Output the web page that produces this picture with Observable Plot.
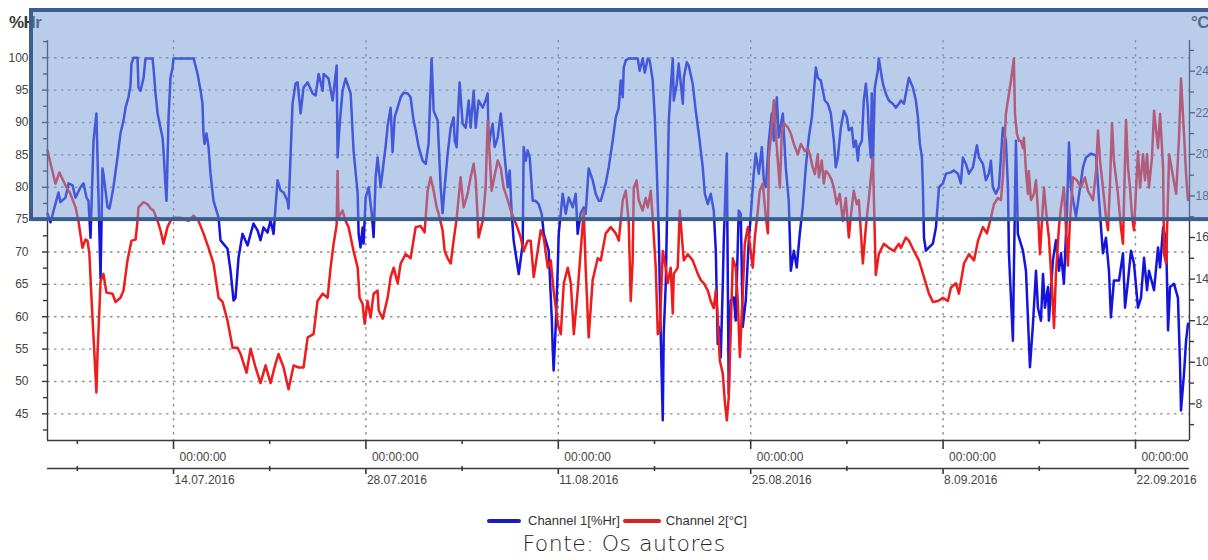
<!DOCTYPE html>
<html><head><meta charset="utf-8">
<script src="https://cdn.jsdelivr.net/npm/d3@7"></script>
<script src="https://cdn.jsdelivr.net/npm/@observablehq/plot@0.6"></script>
<style>
html,body{margin:0;padding:0;background:#fff;}
body{width:1208px;height:560px;overflow:hidden;position:relative;font-family:"Liberation Sans",Arial,sans-serif;}
#chart{position:absolute;left:0;top:0;}
#legend{position:absolute;top:512px;left:487px;display:flex;align-items:center;font-size:13px;color:#333;line-height:18px;white-space:nowrap;}
.sw{display:inline-block;height:4px;border-radius:2px;}
#caption{position:absolute;top:532px;left:0;width:1208px;padding-left:40px;box-sizing:border-box;text-align:center;font-family:"DejaVu Sans",sans-serif;font-weight:300;font-size:22px;letter-spacing:0.5px;color:#222;line-height:24px;}
</style></head><body>
<div id="chart"></div>
<div id="legend"><span class="sw" style="background:#1c1cb8;width:34px;margin-right:7px"></span><span>Channel 1[%Hr]</span><span class="sw" style="background:#d92222;width:38px;margin-left:3px;margin-right:5px"></span><span>Channel 2[°C]</span></div>
<div id="caption">Fonte: Os autores</div>
<script>
// [day since 2016-07-01, %Hr]
const humidityReadings = [[3.83,75.9],[4.05,74.6],[4.63,79.2],[4.77,77.7],[5.14,78.4],[5.36,80.6],[5.65,80.3],[5.87,78.4],[6.23,80.0],[6.45,80.6],[6.67,78.4],[6.81,77.9],[6.96,72.2],[7.18,87.2],[7.39,91.4],[7.69,65.9],[7.83,82.9],[7.90,82.1],[8.20,76.9],[8.34,76.7],[8.63,80.0],[8.92,84.6],[9.14,88.3],[9.36,90.3],[9.51,92.3],[9.72,93.9],[9.87,95.7],[9.94,99.1],[10.09,100],[10.38,100],[10.45,95.4],[10.60,94.9],[10.82,96.9],[10.96,99.9],[11.47,99.9],[11.54,98.5],[11.69,94.5],[11.84,91.4],[12.05,89.2],[12.20,87.7],[12.27,85.7],[12.42,80.0],[12.49,77.9],[12.64,90.8],[12.78,96.9],[12.93,98.5],[13.00,99.9],[14.46,99.9],[14.75,97.5],[14.97,94.9],[15.11,92.9],[15.18,88.3],[15.26,86.7],[15.40,88.3],[15.55,86.2],[15.69,82.1],[15.91,77.9],[16.28,75.3],[16.42,71.8],[16.93,70.5],[17.15,67.1],[17.37,62.5],[17.51,62.9],[17.73,69.1],[18.02,72.8],[18.39,71.0],[18.61,72.8],[18.82,74.4],[19.12,73.3],[19.33,71.8],[19.55,73.8],[19.84,73.0],[20.06,74.9],[20.28,72.8],[20.57,81.1],[20.79,79.5],[21.01,79.2],[21.30,77.9],[21.37,76.7],[21.66,92.9],[21.88,96.0],[22.03,96.2],[22.25,91.4],[22.46,95.4],[22.76,96.2],[23.12,94.5],[23.34,94.2],[23.56,97.5],[23.85,94.9],[23.92,97.5],[24.28,96.8],[24.58,93.4],[24.87,98.8],[24.94,84.6],[25.09,89.8],[25.30,94.9],[25.52,96.8],[25.89,94.5],[26.10,85.7],[26.40,79.0],[26.47,72.8],[26.61,70.7],[26.76,73.8],[26.83,71.3],[26.98,78.4],[27.20,80.0],[27.42,76.0],[27.56,72.3],[27.71,81.6],[27.85,84.6],[28.07,80.0],[28.43,86.2],[28.58,89.5],[28.80,92.3],[28.94,85.4],[29.09,90.8],[29.53,93.9],[29.74,94.6],[30.04,94.5],[30.25,93.9],[30.47,90.3],[30.62,88.8],[30.84,86.2],[31.13,84.1],[31.35,83.6],[31.56,86.7],[31.78,99.9],[31.93,91.8],[32.22,90.3],[32.44,80.0],[32.58,76.0],[32.73,80.0],[32.95,85.2],[33.17,89.2],[33.38,90.8],[33.46,87.2],[33.60,86.2],[33.75,93.4],[33.82,96.2],[34.04,89.8],[34.26,89.2],[34.48,93.4],[34.62,89.2],[34.84,94.9],[34.99,89.2],[35.20,93.4],[35.50,92.3],[35.71,93.4],[35.86,94.5],[35.93,86.2],[36.08,88.3],[36.22,89.8],[36.37,86.2],[36.59,87.7],[36.81,91.4],[36.95,88.3],[37.17,83.1],[37.32,80.0],[37.46,82.6],[37.61,75.9],[37.75,71.8],[38.12,66.6],[38.41,71.3],[38.48,86.2],[38.63,84.1],[38.77,85.7],[38.92,84.6],[39.14,77.9],[39.35,77.9],[39.57,77.4],[39.79,75.9],[39.94,72.8],[40.30,70.2],[40.52,59.9],[40.59,55.3],[40.66,51.7],[40.81,58.4],[40.96,67.6],[41.03,72.8],[41.32,79.0],[41.54,75.9],[41.76,78.4],[42.05,76.9],[42.27,79.0],[42.41,72.8],[42.63,76.0],[42.85,76.9],[42.99,75.9],[43.21,82.9],[43.50,81.1],[43.72,79.0],[43.94,77.9],[44.09,77.9],[44.45,80.6],[44.67,83.1],[44.96,87.2],[45.18,90.8],[45.40,92.3],[45.54,96.5],[45.69,93.9],[45.76,98.5],[45.91,99.6],[46.12,99.9],[46.78,99.9],[46.92,98.0],[47.14,99.9],[47.29,97.7],[47.51,99.9],[47.65,99.6],[47.87,96.5],[48.02,90.8],[48.16,83.1],[48.31,72.8],[48.45,57.4],[48.60,44.0],[48.67,57.4],[48.82,65.1],[49.04,90.3],[49.18,95.4],[49.33,99.9],[49.40,93.4],[49.62,96.0],[49.76,99.1],[49.91,96.0],[50.06,92.9],[50.13,96.9],[50.35,99.3],[50.49,98.8],[50.78,96.0],[51.00,91.8],[51.22,88.3],[51.51,83.1],[51.66,79.0],[51.88,77.4],[52.09,79.0],[52.31,76.4],[52.46,70.2],[52.60,55.8],[52.68,58.4],[52.82,53.7],[52.97,65.1],[53.04,71.8],[53.26,85.2],[53.40,48.1],[53.55,62.5],[53.77,63.0],[53.91,59.4],[54.13,76.4],[54.28,75.9],[54.42,58.4],[54.64,62.5],[54.86,71.8],[55.01,75.9],[55.22,82.1],[55.37,85.2],[55.59,82.1],[55.81,86.2],[55.95,81.1],[56.10,80.0],[56.32,87.2],[56.53,91.4],[56.68,87.2],[56.90,93.9],[57.04,87.7],[57.34,91.4],[57.55,83.1],[57.77,77.9],[57.92,67.1],[58.14,70.2],[58.35,67.6],[58.57,72.8],[58.79,77.0],[59.01,83.1],[59.23,87.7],[59.45,90.8],[59.59,94.5],[59.74,98.5],[59.88,96.9],[60.10,96.5],[60.25,94.9],[60.39,93.4],[60.61,92.9],[60.83,91.4],[61.05,87.2],[61.19,83.1],[61.34,84.6],[61.56,89.2],[61.78,91.8],[62.00,90.8],[62.14,88.8],[62.36,89.2],[62.50,86.2],[62.65,87.2],[62.80,84.1],[62.87,86.2],[63.09,87.2],[63.23,93.4],[63.38,96.0],[63.52,92.3],[63.60,88.3],[63.74,84.6],[63.81,94.5],[63.89,83.1],[64.03,95.4],[64.25,98.0],[64.32,99.9],[64.62,96.0],[64.83,94.5],[65.05,93.4],[65.34,92.9],[65.56,92.3],[65.78,92.9],[65.93,93.4],[66.15,92.9],[66.51,96.9],[66.80,95.4],[67.02,93.4],[67.17,90.8],[67.31,86.7],[67.46,84.6],[67.53,80.0],[67.61,72.2],[67.75,70.2],[67.97,70.7],[68.26,71.3],[68.48,73.8],[68.70,80.0],[68.99,80.6],[69.21,82.1],[69.57,82.3],[69.79,82.6],[70.08,82.1],[70.29,80.6],[70.44,84.6],[70.66,83.6],[70.88,82.1],[71.17,83.1],[71.46,86.5],[71.61,84.6],[71.90,83.6],[72.11,81.1],[72.33,82.1],[72.48,84.1],[72.62,80.0],[72.84,79.0],[73.06,80.0],[73.35,89.2],[73.57,87.2],[73.72,80.0],[73.79,69.8],[74.08,56.3],[74.15,67.1],[74.30,87.2],[74.44,72.8],[74.81,70.2],[75.03,67.1],[75.32,52.2],[75.54,58.9],[75.76,67.1],[75.90,61.4],[76.12,59.4],[76.27,66.6],[76.41,61.4],[76.63,64.6],[76.70,59.4],[76.99,68.7],[77.21,71.8],[77.43,67.1],[77.58,69.8],[77.79,65.1],[78.01,76.0],[78.16,86.9],[78.30,80.0],[78.67,75.5],[79.18,83.1],[79.40,84.6],[79.76,85.2],[80.13,84.9],[80.35,77.9],[80.63,69.8],[80.85,72.2],[81.07,67.1],[81.21,59.9],[81.43,65.6],[81.80,65.6],[82.09,69.8],[82.24,61.4],[82.46,65.6],[82.67,70.2],[82.89,68.2],[83.18,61.4],[83.40,62.9],[83.62,69.1],[83.84,64.1],[83.98,67.1],[84.35,64.1],[84.64,70.7],[84.79,67.6],[85.01,73.8],[85.23,71.8],[85.37,57.9],[85.51,64.6],[85.80,65.1],[86.09,62.9],[86.24,52.7],[86.31,45.5],[86.53,51.2],[86.68,56.3],[86.82,58.9]];

// [day since 2016-07-01, °C]
const temperatureReadings = [[3.83,20.2],[4.05,19.56],[4.41,18.6],[4.70,19.13],[5.14,18.5],[5.50,18.1],[5.87,17.45],[6.08,16.8],[6.37,15.5],[6.59,15.9],[6.74,15.85],[6.88,15.2],[7.03,13.1],[7.18,11.2],[7.39,8.55],[7.47,10.4],[7.69,13.9],[7.90,14.25],[8.12,13.35],[8.56,13.3],[8.78,12.9],[9.14,13.1],[9.36,13.45],[9.65,14.9],[9.94,15.85],[10.24,15.9],[10.38,16.8],[10.45,17.45],[10.82,17.7],[11.11,17.6],[11.33,17.4],[11.54,17.3],[11.84,16.8],[12.05,16.35],[12.27,15.7],[12.56,16.5],[12.78,16.8],[13.00,16.95],[13.51,16.95],[14.09,16.8],[14.46,17.05],[14.82,16.8],[15.18,16.2],[15.55,15.5],[15.91,14.75],[16.28,13.1],[16.57,12.9],[16.93,12.0],[17.30,10.7],[17.66,10.7],[17.88,10.4],[18.31,9.5],[18.61,10.65],[18.97,9.75],[19.33,9.0],[19.70,9.85],[20.06,9.0],[20.35,9.75],[20.64,10.4],[21.01,9.75],[21.37,8.7],[21.74,9.85],[22.10,9.75],[22.46,9.75],[22.76,11.2],[23.19,11.35],[23.48,12.95],[23.85,13.3],[24.21,13.1],[24.43,14.55],[24.65,15.7],[24.87,16.6],[24.94,19.2],[25.01,16.95],[25.30,17.3],[25.52,16.8],[25.74,16.5],[26.10,15.35],[26.40,14.55],[26.54,13.1],[26.76,12.8],[26.91,11.85],[27.12,12.95],[27.34,12.15],[27.56,13.3],[27.85,13.45],[27.93,12.5],[28.22,12.1],[28.58,13.1],[28.80,14.1],[29.02,14.55],[29.31,13.8],[29.53,14.75],[29.89,15.2],[30.25,15.0],[30.62,16.5],[30.98,16.55],[31.27,16.25],[31.49,18.25],[31.71,18.9],[31.93,18.25],[32.15,17.45],[32.29,17.15],[32.58,16.35],[32.73,15.35],[32.95,15.0],[33.17,14.75],[33.38,15.85],[33.60,16.9],[33.89,18.9],[34.11,17.45],[34.40,18.1],[34.62,18.9],[34.84,19.55],[34.99,18.75],[35.13,16.95],[35.20,16.0],[35.50,16.8],[35.71,18.4],[35.86,21.6],[36.00,20.0],[36.15,18.25],[36.30,18.75],[36.59,19.7],[36.81,19.35],[37.02,18.4],[37.32,17.8],[37.54,17.3],[37.75,16.95],[38.04,16.45],[38.26,16.0],[38.48,15.35],[38.77,15.85],[38.99,15.85],[39.21,14.1],[39.50,15.35],[39.72,16.35],[39.94,16.0],[40.23,14.55],[40.45,14.9],[40.66,13.45],[40.96,11.85],[41.18,11.35],[41.40,13.8],[41.69,14.55],[41.91,13.8],[42.13,11.35],[42.41,13.45],[42.63,15.35],[42.85,17.3],[42.99,14.55],[43.21,11.2],[43.50,13.95],[43.87,15.0],[44.09,14.9],[44.45,16.2],[44.82,16.5],[45.18,16.2],[45.40,15.85],[45.69,17.8],[45.91,18.25],[46.12,16.8],[46.27,12.95],[46.41,14.9],[46.49,18.4],[46.70,18.75],[46.85,17.8],[47.14,17.3],[47.36,17.9],[47.51,17.45],[47.73,18.25],[47.87,16.9],[48.09,14.55],[48.24,11.35],[48.38,11.5],[48.60,15.35],[48.82,14.55],[48.96,13.8],[49.18,14.55],[49.33,12.35],[49.40,14.25],[49.69,14.55],[49.84,17.3],[50.13,14.9],[50.42,15.2],[50.78,14.9],[51.15,14.25],[51.37,13.95],[51.59,13.8],[51.88,13.45],[52.09,12.95],[52.31,12.6],[52.46,13.45],[52.60,12.15],[52.75,10.1],[52.97,9.45],[53.11,8.15],[53.26,7.2],[53.40,8.3],[53.55,11.65],[53.70,15.0],[53.91,14.55],[54.06,12.95],[54.21,10.25],[54.42,13.3],[54.57,15.7],[54.79,16.5],[54.93,15.7],[55.15,14.55],[55.30,16.0],[55.52,17.3],[55.66,18.25],[55.88,18.6],[56.10,17.0],[56.25,16.2],[56.32,19.85],[56.53,21.3],[56.68,22.6],[56.83,21.0],[56.97,19.7],[57.12,18.4],[57.26,21.0],[57.41,21.5],[57.70,21.3],[57.92,21.0],[58.14,20.5],[58.43,20.0],[58.65,20.5],[58.94,20.15],[59.16,20.3],[59.30,20.0],[59.52,19.35],[59.67,19.05],[59.88,20.0],[59.96,18.9],[60.17,19.7],[60.32,18.6],[60.46,19.2],[60.68,19.05],[60.90,18.75],[61.05,18.4],[61.26,17.6],[61.48,18.1],[61.70,16.8],[61.92,17.9],[62.14,16.0],[62.28,17.0],[62.50,18.25],[62.72,17.6],[62.87,17.8],[63.16,14.75],[63.38,16.5],[63.60,17.9],[63.89,19.85],[64.10,14.2],[64.32,15.2],[64.69,15.7],[65.05,15.5],[65.42,15.35],[65.78,15.7],[65.93,15.5],[66.29,16.0],[66.51,15.85],[66.88,15.35],[67.24,14.9],[67.61,14.1],[67.97,13.3],[68.26,12.9],[68.63,12.95],[68.99,13.1],[69.35,12.95],[69.57,13.6],[69.94,13.8],[70.15,13.3],[70.52,14.75],[70.88,15.2],[71.25,14.9],[71.54,15.85],[71.90,16.5],[72.19,16.2],[72.48,16.95],[72.70,17.6],[72.99,17.9],[73.21,17.8],[73.35,18.9],[73.57,21.95],[73.72,22.6],[73.94,23.55],[74.15,24.6],[74.23,21.95],[74.37,21.0],[74.52,20.65],[74.66,20.65],[74.81,20.3],[74.88,20.8],[75.03,19.2],[75.17,18.1],[75.24,19.2],[75.39,17.8],[75.61,18.1],[75.76,18.75],[75.90,17.3],[76.05,15.2],[76.34,18.4],[76.56,16.8],[76.70,16.0],[76.92,13.6],[77.07,11.65],[77.21,14.25],[77.43,16.5],[77.58,17.45],[77.79,18.4],[77.94,16.5],[78.08,14.65],[78.23,16.8],[78.45,18.9],[78.74,18.75],[79.03,18.4],[79.32,18.9],[79.54,18.25],[79.91,17.8],[80.13,19.2],[80.27,21.15],[80.42,19.7],[80.63,18.4],[80.85,17.0],[81.00,16.35],[81.14,18.5],[81.29,21.5],[81.43,19.7],[81.72,18.1],[81.94,16.5],[82.09,15.7],[82.31,21.65],[82.46,19.35],[82.60,18.4],[82.75,17.0],[82.89,16.35],[83.18,20.15],[83.33,18.4],[83.55,20.0],[83.69,18.75],[83.84,20.0],[83.98,18.4],[84.20,19.85],[84.35,22.1],[84.50,21.15],[84.64,20.3],[84.79,21.95],[85.01,19.35],[85.08,15.2],[85.23,14.75],[85.45,20.0],[85.74,18.9],[85.96,18.1],[86.18,21.0],[86.31,23.65],[86.53,21.0],[86.68,19.05],[86.82,17.8]];

const leftTicks = [45,50,55,60,65,70,75,80,85,90,95,100];
const leftMinorTicks = [42.5,47.5,52.5,57.5,62.5,67.5,72.5,77.5,82.5,87.5,92.5,97.5,102.5];
const rightTicks = [8,10,12,14,16,18,20,22,24];
const rightMinorTicks = [7,9,11,13,15,17,19,21,23,25];
const majorDates = ["2016-07-14","2016-07-28","2016-08-11","2016-08-25","2016-09-08","2016-09-22"];
const minorDates = ["2016-07-07","2016-07-21","2016-08-04","2016-08-18","2016-09-01","2016-09-15"];
const timeLabel = "00:00:00";
const leftUnit = "%Hr", rightUnit = "°C";
const periodStartDay = 3.83, periodEndDay = 86.93;   // visible period (days since 1 July 2016)
const humDomain = [40.88, 102.67];                    // left axis range, %Hr
const bandFrom = 75;                                  // highlighted band: %Hr above 75
// right axis alignment: 8 °C sits level with 46.54 %Hr, 24 °C level with 97.93 %Hr
const tA = 8, hA = 46.54, tB = 24, hB = 97.93;

const t0 = Date.UTC(2016, 6, 1);
const toDate = d => new Date(t0 + d * 864e5);
const tToH = t => hA + (t - tA) * (hB - hA) / (tB - tA);
const hToT = h => tA + (h - hA) * (tB - tA) / (hB - hA);

const hum = humidityReadings.map(([d, v]) => ({date: toDate(d), v}));
const temp = temperatureReadings.map(([d, v]) => ({date: toDate(d), v: tToH(v)}));
const majors = majorDates.map(s => new Date(s + "T00:00:00Z"));
const minors = minorDates.map(s => new Date(s + "T00:00:00Z"));
const xDomain = [toDate(periodStartDay), toDate(periodEndDay)];
const fmtDate = d3.utcFormat("%-d.%m.%Y");

const grid = {stroke: "#8f8f8f", strokeOpacity: 1, strokeDasharray: "2.5,4.5", strokeWidth: 1.4};
const axisCol = "#3a3a3a";

const plot = Plot.plot({
  width: 1208, height: 500,
  marginLeft: 47, marginRight: 19, marginTop: 40, marginBottom: 60,
  style: {fontFamily: "'Liberation Sans', Arial, sans-serif", fontSize: "12px", color: "#444", background: "transparent"},
  x: {type: "utc", domain: xDomain, label: null},
  y: {domain: humDomain, label: null},
  marks: [
    Plot.gridY(leftTicks, grid),
    Plot.gridX(majors, grid),
    Plot.line(hum, {x: "date", y: "v", stroke: "#1414dc", strokeWidth: 2.5}),
    Plot.line(temp, {x: "date", y: "v", stroke: "#ee1c1c", strokeWidth: 2.5}),
    Plot.ruleX(xDomain, {stroke: axisCol, strokeWidth: 1.4}),
    Plot.ruleY([humDomain[0]], {stroke: axisCol, strokeWidth: 1.4}),
    Plot.ruleY([humDomain[0]], {stroke: axisCol, strokeWidth: 1.4, dy: 28}),
    Plot.axisY(leftTicks, {anchor: "left", tickSize: 5, tickPadding: 14, stroke: axisCol, strokeWidth: 1.4, tickFormat: d => d, label: null}),
    Plot.axisY(leftMinorTicks, {anchor: "left", tickSize: 4, stroke: axisCol, strokeWidth: 1.4, fill: "none", label: null}),
    Plot.axisY(rightTicks.map(tToH), {anchor: "right", tickSize: 5, tickPadding: 1, stroke: axisCol, strokeWidth: 1.4, tickFormat: h => Math.round(hToT(h)), label: null}),
    Plot.axisY(rightMinorTicks.map(tToH), {anchor: "right", tickSize: 4, stroke: axisCol, strokeWidth: 1.4, fill: "none", label: null}),
    Plot.axisX(majors, {anchor: "bottom", tickSize: 9, stroke: axisCol, strokeWidth: 1.6, fill: "none", label: null}),
    Plot.axisX(minors, {anchor: "bottom", tickSize: 4, stroke: axisCol, strokeWidth: 1.6, fill: "none", label: null}),
    Plot.axisX(majors, {anchor: "bottom", tickSize: 0, stroke: "none", tickPadding: 12, textAnchor: "start", dx: 6, tickFormat: () => timeLabel, label: null}),
    Plot.axisX(majors, {anchor: "bottom", tickSize: 6, stroke: axisCol, strokeWidth: 1.6, fill: "none", dy: 28, label: null}),
    Plot.axisX(minors, {anchor: "bottom", tickSize: 5, stroke: axisCol, strokeWidth: 1.6, fill: "none", dy: 26, label: null}),
    Plot.axisX(majors, {anchor: "bottom", tickSize: 0, stroke: "none", tickPadding: 35, textAnchor: "start", dx: 1, tickFormat: fmtDate, label: null})
  ]
});
document.getElementById("chart").appendChild(plot);

// unit labels and the highlighted band (above 75 %Hr)
const svg = d3.select(plot);
const yS = plot.scale("y");
const unitStyle = s => s.attr("font-family", "'Liberation Sans', Arial, sans-serif").attr("font-size", 17).attr("font-weight", "bold").attr("fill", "#3a3a3a").attr("letter-spacing", "-0.6");
svg.append("text").attr("x", 9).attr("y", 28).attr("text-anchor", "start").text(leftUnit).call(unitStyle);
svg.append("text").attr("x", 1209).attr("y", 28).attr("text-anchor", "end").text(rightUnit).call(unitStyle);
const bandBottom = yS.apply(bandFrom);
svg.append("rect")
  .attr("x", 31).attr("y", 10)
  .attr("width", 1200).attr("height", bandBottom - 10)
  .attr("fill", "rgb(115,155,215)").attr("fill-opacity", 0.5)
  .attr("stroke", "#3c5e8d").attr("stroke-width", 4);
</script>
</body></html>
